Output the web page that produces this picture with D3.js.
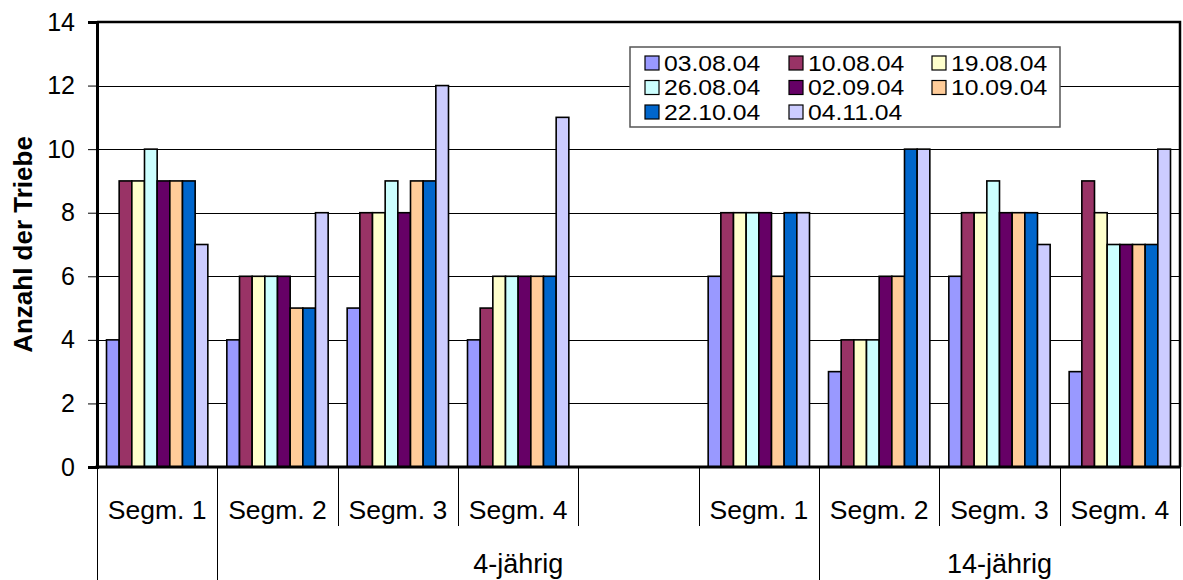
<!DOCTYPE html>
<html>
<head>
<meta charset="utf-8">
<script src="https://cdn.jsdelivr.net/npm/d3@7/dist/d3.min.js"></script>
<style>
  html, body { margin: 0; padding: 0; background: #fff; }
  svg { display: block; font-family: "Liberation Sans", Arial, sans-serif; }
</style>
</head>
<body>
<svg id="chart" width="1183" height="580"></svg>
<script>
// Category slots along the x axis (slot 4 is an empty spacer)
const categoryLabels = ["Segm. 1", "Segm. 2", "Segm. 3", "Segm. 4", "", "Segm. 1", "Segm. 2", "Segm. 3", "Segm. 4"];

// Outer grouping of the category axis
const groupLabels = ["", "4-jährig", "14-jährig"];
const groupStart = [0, 1, 6];
const groupEnd = [1, 6, 9];

// Sampling dates (series)
const seriesNames = ["03.08.04", "10.08.04", "19.08.04", "26.08.04", "02.09.04", "10.09.04", "22.10.04", "04.11.04"];
const seriesColors = ["#9999FF", "#993366", "#FFFFCC", "#CCFFFF", "#660066", "#FFCC99", "#0066CC", "#CCCCFF"];

// Number of shoots per segment, one array per date
const v030804 = [4, 4, 5, 4, null, 6, 3, 6, 3];
const v100804 = [9, 6, 8, 5, null, 8, 4, 8, 9];
const v190804 = [9, 6, 8, 6, null, 8, 4, 8, 8];
const v260804 = [10, 6, 9, 6, null, 8, 4, 9, 7];
const v020904 = [9, 6, 8, 6, null, 8, 6, 8, 7];
const v100904 = [9, 5, 9, 6, null, 6, 6, 8, 7];
const v221004 = [9, 5, 9, 6, null, 8, 10, 8, 7];
const v041104 = [7, 8, 12, 11, null, 8, 10, 7, 10];
const seriesValues = [v030804, v100804, v190804, v260804, v020904, v100904, v221004, v041104];

const yTicks = [0, 2, 4, 6, 8, 10, 12, 14];
const yTitle = "Anzahl der Triebe";

const svg = d3.select("#chart");
const plot = { left: 97, right: 1180, top: 22, bottom: 467 };
const fontSize = 25;
const catFontSize = 26.5;

const x = d3.scaleBand()
  .domain(d3.range(categoryLabels.length))
  .range([plot.left, plot.right])
  .paddingInner(0).paddingOuter(0);

const xInner = d3.scaleBand()
  .domain(d3.range(seriesNames.length))
  .range([0, x.bandwidth()])
  .paddingInner(0).paddingOuter(0.75);

const y = d3.scaleLinear().domain([0, 14]).range([plot.bottom, plot.top]);

// Horizontal gridlines
svg.append("g")
  .selectAll("line")
  .data(yTicks.filter(d => d > 0 && d < 14))
  .join("line")
  .attr("x1", plot.left).attr("x2", plot.right)
  .attr("y1", d => Math.round(y(d)) + 0.5).attr("y2", d => Math.round(y(d)) + 0.5)
  .attr("stroke", "#000").attr("stroke-width", 1);

// Plot area border (top and right)
svg.append("path")
  .attr("d", `M${plot.left},${plot.top} H${plot.right} V${plot.bottom}`)
  .attr("fill", "none").attr("stroke", "#000").attr("stroke-width", 2.5);

// Bars
const barData = [];
seriesValues.forEach((vals, si) => {
  vals.forEach((v, ci) => {
    if (v !== null) barData.push({ si, ci, v });
  });
});
svg.append("g")
  .selectAll("rect")
  .data(barData)
  .join("rect")
  .attr("x", d => x(d.ci) + xInner(d.si))
  .attr("y", d => y(d.v))
  .attr("width", xInner.bandwidth())
  .attr("height", d => y(0) - y(d.v))
  .attr("fill", d => seriesColors[d.si])
  .attr("stroke", "#000").attr("stroke-width", 1.6);

// Y axis
const yAxis = d3.axisLeft(y).tickValues(yTicks).tickSize(9).tickPadding(13).tickFormat(d3.format("d"));
const gy = svg.append("g").attr("transform", `translate(${plot.left},0)`).call(yAxis);
gy.select(".domain").attr("stroke", "#000").attr("stroke-width", 3);
gy.selectAll(".tick line").attr("stroke", "#000").attr("stroke-width", 1);
gy.selectAll(".tick text")
  .attr("font-size", fontSize).attr("fill", "#000")
  .attr("font-family", "Liberation Sans, Arial, sans-serif");

// Y axis title
svg.append("text")
  .attr("transform", `translate(32,${(plot.top + plot.bottom) / 2}) rotate(-90)`)
  .attr("text-anchor", "middle")
  .attr("font-size", 26).attr("font-weight", "bold")
  .text(yTitle);

// X axis: slot boundaries and labels
const boundaries = d3.range(categoryLabels.length + 1).map(i => i < categoryLabels.length ? x(i) : plot.right);
const longAt = new Set(groupStart);
svg.append("g")
  .selectAll("line")
  .data(boundaries.map((bx, i) => ({ bx, i })))
  .join("line")
  .attr("x1", d => Math.round(d.bx) + 0.5).attr("x2", d => Math.round(d.bx) + 0.5)
  .attr("y1", plot.bottom)
  .attr("y2", d => longAt.has(d.i) ? 580 : 526)
  .attr("stroke", "#000").attr("stroke-width", 1);

svg.append("line")
  .attr("x1", plot.left - 1.5).attr("x2", plot.right)
  .attr("y1", plot.bottom).attr("y2", plot.bottom)
  .attr("stroke", "#000").attr("stroke-width", 3);

svg.append("g")
  .selectAll("text")
  .data(categoryLabels.map((t, i) => ({ t, i })))
  .join("text")
  .attr("x", d => x(d.i) + x.bandwidth() / 2)
  .attr("y", 519)
  .attr("text-anchor", "middle")
  .attr("font-size", catFontSize)
  .text(d => d.t);

svg.append("g")
  .selectAll("text")
  .data(groupLabels.map((t, i) => ({ t, i })))
  .join("text")
  .attr("x", d => (x(groupStart[d.i]) + (groupEnd[d.i] < categoryLabels.length ? x(groupEnd[d.i]) : plot.right)) / 2)
  .attr("y", 573)
  .attr("text-anchor", "middle")
  .attr("font-size", 27)
  .text(d => d.t);

// Legend
const legend = { x: 630, y: 47, w: 430, h: 80 };
const lg = svg.append("g");
lg.append("rect")
  .attr("x", legend.x).attr("y", legend.y)
  .attr("width", legend.w).attr("height", legend.h)
  .attr("fill", "#fff").attr("stroke", "#555").attr("stroke-width", 1.5);
const colX = [645, 789, 932];
const rowY = [63, 87.5, 112];
const items = lg.selectAll("g.item")
  .data(seriesNames.map((n, i) => ({ n, i })))
  .join("g").attr("class", "item")
  .attr("transform", d => `translate(${colX[d.i % 3]},${rowY[Math.floor(d.i / 3)]})`);
items.append("rect")
  .attr("x", 0).attr("y", -7).attr("width", 14).attr("height", 14)
  .attr("fill", d => seriesColors[d.i])
  .attr("stroke", "#000").attr("stroke-width", 1.2);
items.append("text")
  .attr("transform", "translate(19,0) scale(1.15,1)")
  .attr("dy", "0.36em")
  .attr("font-size", 21.5)
  .text(d => d.n);
</script>
</body>
</html>
